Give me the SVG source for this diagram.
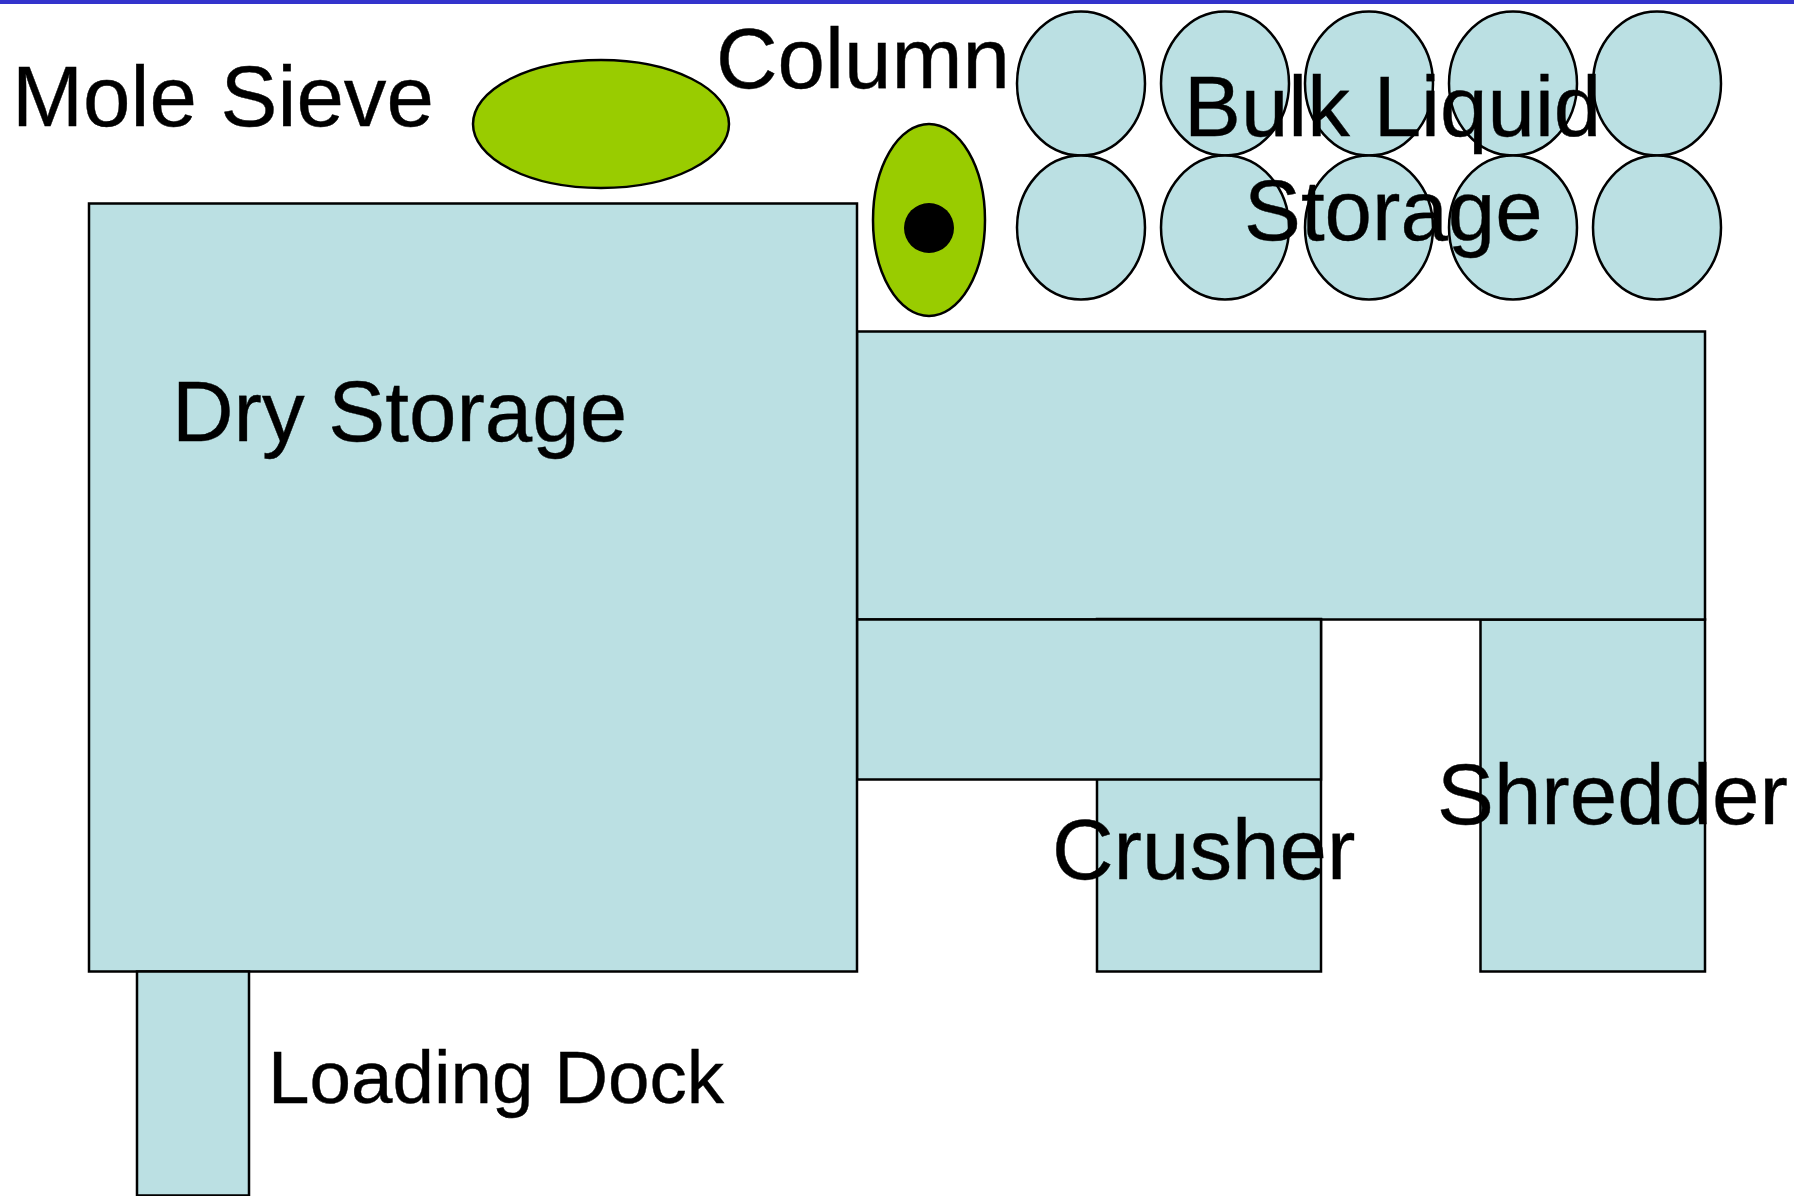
<svg xmlns="http://www.w3.org/2000/svg" width="1794" height="1196" viewBox="0 0 1794 1196">
<style>
.b{fill:#bbe0e3;stroke:#000;stroke-width:2.5}
.g{fill:#99cc00;stroke:#000;stroke-width:2.5}
text{font-family:"Liberation Sans",Arial,sans-serif;font-size:85.300px;fill:#000;stroke:#000;stroke-width:.4}
</style>
<rect width="1794" height="1196" fill="#fff"/>
<rect id="top-bar" width="1794" height="4" fill="#3333cc"/>
<g id="shredder"><rect class="b" x="1480.500" y="619.500" width="224.500" height="352"/></g>
<g id="conveyor-upper"><rect class="b" x="857" y="331.500" width="848" height="288"/></g>
<g id="crusher"><rect class="b" x="1097" y="619" width="224" height="352.500"/></g>
<g id="conveyor-lower"><rect class="b" x="857" y="619.500" width="464" height="160"/></g>
<g id="dry-storage"><rect class="b" x="89" y="203.500" width="768" height="768"/></g>
<g id="loading-dock"><rect class="b" x="137" y="971.500" width="112" height="224"/></g>
<g id="mole-sieve"><ellipse class="g" cx="601" cy="124" rx="128" ry="64"/></g>
<g id="column"><ellipse class="g" cx="929" cy="220" rx="56" ry="96"/><circle cx="929" cy="228" r="25" fill="#000"/></g>
<g id="tanks">
<ellipse class="b" cx="1081" cy="83.500" rx="64" ry="72"/><ellipse class="b" cx="1225" cy="83.500" rx="64" ry="72"/><ellipse class="b" cx="1369" cy="83.500" rx="64" ry="72"/><ellipse class="b" cx="1513" cy="83.500" rx="64" ry="72"/><ellipse class="b" cx="1657" cy="83.500" rx="64" ry="72"/>
<ellipse class="b" cx="1081" cy="227.500" rx="64" ry="72"/><ellipse class="b" cx="1225" cy="227.500" rx="64" ry="72"/><ellipse class="b" cx="1369" cy="227.500" rx="64" ry="72"/><ellipse class="b" cx="1513" cy="227.500" rx="64" ry="72"/><ellipse class="b" cx="1657" cy="227.500" rx="64" ry="72"/>
</g>
<g id="labels">
<text x="12" y="126">Mole Sieve</text>
<text x="716" y="88">Column</text>
<text x="1184" y="136">Bulk Liquid</text>
<text x="1244" y="240">Storage</text>
<text x="172" y="441">Dry Storage</text>
<text x="1052" y="879">Crusher</text>
<text x="1437" y="824">Shredder</text>
<text x="268" y="1103" style="font-size:74.600px">Loading Dock</text>
</g>
</svg>
